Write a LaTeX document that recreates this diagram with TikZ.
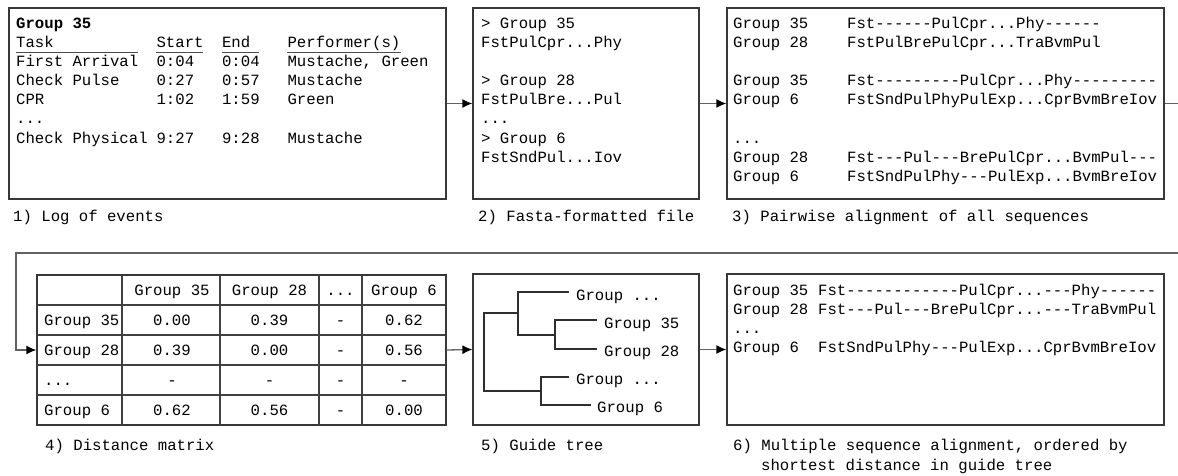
\documentclass[tikz,border=0pt]{standalone}
\usepackage{fontspec}
\setmonofont{Liberation Mono}
\usetikzlibrary{arrows.meta,shadows}
\begin{document}
\begin{tikzpicture}[x=1pt,y=-1pt,
  font=\ttfamily\fontsize{15.65}{19}\selectfont,
  box/.style={draw=black!78, line width=1.3pt, fill=white, inner sep=0pt,
    drop shadow={shadow xshift=1.2pt, shadow yshift=-1.2pt, fill=black!28, opacity=1}},
  txt/.style={anchor=base west, inner sep=0pt},
  ctr/.style={anchor=base, inner sep=0pt},
  flow/.style={draw=black!62, line width=1.3pt, -{Latex[length=10pt,width=9pt,black]}},
  gridline/.style={draw=black!75, line width=1.3pt},
  ul/.style={draw=black!70, line width=1.3pt},
  branch/.style={draw=black!82, line width=1.2pt}]

\useasboundingbox (0,0) rectangle (1178,476);
\clip (0,0) rectangle (1178,476);

% ---------- frames ----------
\node[box, minimum width=437pt, minimum height=191pt] (b1) at (227.5,103.5) {};
\node[box, minimum width=226pt, minimum height=191pt] (b2) at (586,103.5) {};
\node[box, minimum width=437pt, minimum height=191pt] (b3) at (945.5,103.5) {};
\node[box, minimum width=409pt, minimum height=150pt] (tbl) at (241.5,350) {};
\node[box, minimum width=226pt, minimum height=151pt] (tree) at (586,349.5) {};
\node[box, minimum width=437pt, minimum height=151pt] (b6) at (945.5,349.5) {};

% ---------- 1) log of events ----------
\node[txt] (l1h) at (16,29) {\bfseries Group 35};
\node[txt] (l1c0) at (16,48) {Task};
\node[txt] (l1c1) at (156.4,48) {Start};
\node[txt] (l1c2) at (221.9,48) {End};
\node[txt] (l1c3) at (287.4,48) {Performer(s)};
\draw[ul] (16,52.5) -- (137.5,52.5);
\draw[ul] (156.4,52.5) -- (203.3,52.5);
\draw[ul] (221.9,52.5) -- (259.4,52.5);
\draw[ul] (287.4,52.5) -- (400.5,52.5);
\node[txt] (l1r1a) at (16,67) {First Arrival};
\node[txt] (l1r1b) at (156.4,67) {0:04};
\node[txt] (l1r1c) at (221.9,67) {0:04};
\node[txt] (l1r1d) at (287.4,67) {Mustache, Green};
\node[txt] (l1r2a) at (16,86) {Check Pulse};
\node[txt] (l1r2b) at (156.4,86) {0:27};
\node[txt] (l1r2c) at (221.9,86) {0:57};
\node[txt] (l1r2d) at (287.4,86) {Mustache};
\node[txt] (l1r3a) at (16,105) {CPR};
\node[txt] (l1r3b) at (156.4,105) {1:02};
\node[txt] (l1r3c) at (221.9,105) {1:59};
\node[txt] (l1r3d) at (287.4,105) {Green};
\node[txt] (l1r4a) at (16,124) {...};
\node[txt] (l1r5a) at (16,143) {Check Physical};
\node[txt] (l1r5b) at (156.4,143) {9:27};
\node[txt] (l1r5c) at (221.9,143) {9:28};
\node[txt] (l1r5d) at (287.4,143) {Mustache};
\node[txt] (cap1) at (13,221) {1) Log of events};

% ---------- 2) fasta file ----------
\node[txt] (f1) at (481,29) {> Group 35};
\node[txt] (f2) at (481,48) {FstPulCpr...Phy};
\node[txt] (f3) at (481,86) {> Group 28};
\node[txt] (f4) at (481,105) {FstPulBre...Pul};
\node[txt] (f5) at (481,124) {...};
\node[txt] (f6) at (481,143) {> Group 6};
\node[txt] (f7) at (481,162) {FstSndPul...Iov};
\node[txt] (cap2) at (478,221) {2) Fasta-formatted file};

% ---------- 3) pairwise alignment ----------
\node[txt] (p1a) at (733,29) {Group 35};
\node[txt] (p1b) at (847,29) {Fst------PulCpr...Phy------};
\node[txt] (p2a) at (733,48) {Group 28};
\node[txt] (p2b) at (847,48) {FstPulBrePulCpr...TraBvmPul};
\node[txt] (p3a) at (733,86) {Group 35};
\node[txt] (p3b) at (847,86) {Fst---------PulCpr...Phy---------};
\node[txt] (p4a) at (733,105) {Group 6};
\node[txt] (p4b) at (847,105) {FstSndPulPhyPulExp...CprBvmBreIov};
\node[txt] (p5a) at (733,143) {...};
\node[txt] (p6a) at (733,162) {Group 28};
\node[txt] (p6b) at (847,162) {Fst---Pul---BrePulCpr...BvmPul---};
\node[txt] (p7a) at (733,181) {Group 6};
\node[txt] (p7b) at (847,181) {FstSndPulPhy---PulExp...BvmBreIov};
\node[txt] (cap3) at (732,221) {3) Pairwise alignment of all sequences};

% ---------- 4) distance matrix ----------
\foreach \gx in {122,220,319,362}
  \draw[gridline] (\gx,275) -- (\gx,425);
\foreach \gy in {305,335,365,395}
  \draw[gridline] (37,\gy) -- (446,\gy);
\node[ctr] (h1) at (172,295.5) {Group 35};
\node[ctr] (h2) at (269.5,295.5) {Group 28};
\node[ctr] (h3) at (340.5,295.5) {...};
\node[ctr] (h4) at (404,295.5) {Group 6};
\node[txt] (r1) at (44,325.5) {Group 35};
\node[ctr] (r1a) at (172,325.5) {0.00};
\node[ctr] (r1b) at (269.5,325.5) {0.39};
\node[ctr] (r1c) at (340.5,325.5) {-};
\node[ctr] (r1d) at (404,325.5) {0.62};
\node[txt] (r2) at (44,355.5) {Group 28};
\node[ctr] (r2a) at (172,355.5) {0.39};
\node[ctr] (r2b) at (269.5,355.5) {0.00};
\node[ctr] (r2c) at (340.5,355.5) {-};
\node[ctr] (r2d) at (404,355.5) {0.56};
\node[txt] (r3) at (44,385.5) {...};
\node[ctr] (r3a) at (172,385.5) {-};
\node[ctr] (r3b) at (269.5,385.5) {-};
\node[ctr] (r3c) at (340.5,385.5) {-};
\node[ctr] (r3d) at (404,385.5) {-};
\node[txt] (r4) at (44,415.5) {Group 6};
\node[ctr] (r4a) at (172,415.5) {0.62};
\node[ctr] (r4b) at (269.5,415.5) {0.56};
\node[ctr] (r4c) at (340.5,415.5) {-};
\node[ctr] (r4d) at (404,415.5) {0.00};
\node[txt] (cap4) at (45,450) {4) Distance matrix};

% ---------- 5) guide tree ----------
\draw[branch] (518,313) -- (484,313) -- (484,391) -- (541,391);
\draw[branch] (569,292) -- (518,292) -- (518,335) -- (555,335);
\draw[branch] (597,320) -- (555,320) -- (555,349) -- (597,349);
\draw[branch] (569,377) -- (541,377) -- (541,405) -- (591,405);
\node[txt] (g1) at (576,300) {Group ...};
\node[txt] (g2) at (604,328) {Group 35};
\node[txt] (g3) at (604,356) {Group 28};
\node[txt] (g4) at (576,384) {Group ...};
\node[txt] (g5) at (597,412) {Group 6};
\node[txt] (cap5) at (481,450) {5) Guide tree};

% ---------- 6) multiple sequence alignment ----------
\node[txt] (m1a) at (733,295) {Group 35};
\node[txt] (m1b) at (818,295) {Fst------------PulCpr...---Phy------};
\node[txt] (m2a) at (733,314) {Group 28};
\node[txt] (m2b) at (818,314) {Fst---Pul---BrePulCpr...---TraBvmPul};
\node[txt] (m3a) at (733,333) {...};
\node[txt] (m4a) at (733,352) {Group 6};
\node[txt] (m4b) at (818,352) {FstSndPulPhy---PulExp...CprBvmBreIov};
\node[txt] (cap6a) at (733,450) {6) Multiple sequence alignment, ordered by};
\node[txt] (cap6b) at (761,470) {shortest distance in guide tree};

% ---------- connectors ----------
\coordinate (loopR) at (1195,253);
\coordinate (loopL) at (16,253);
\draw[flow] (b1.east) -- (b2.west);
\draw[flow] (b2.east) -- (b3.west);
\draw[flow] (b3.east) -| (loopR) -- (loopL) |- (tbl.west);
\draw[flow] (tbl.east) -- (tree.west);
\draw[flow] (tree.east) -- (b6.west);
\end{tikzpicture}
\end{document}
